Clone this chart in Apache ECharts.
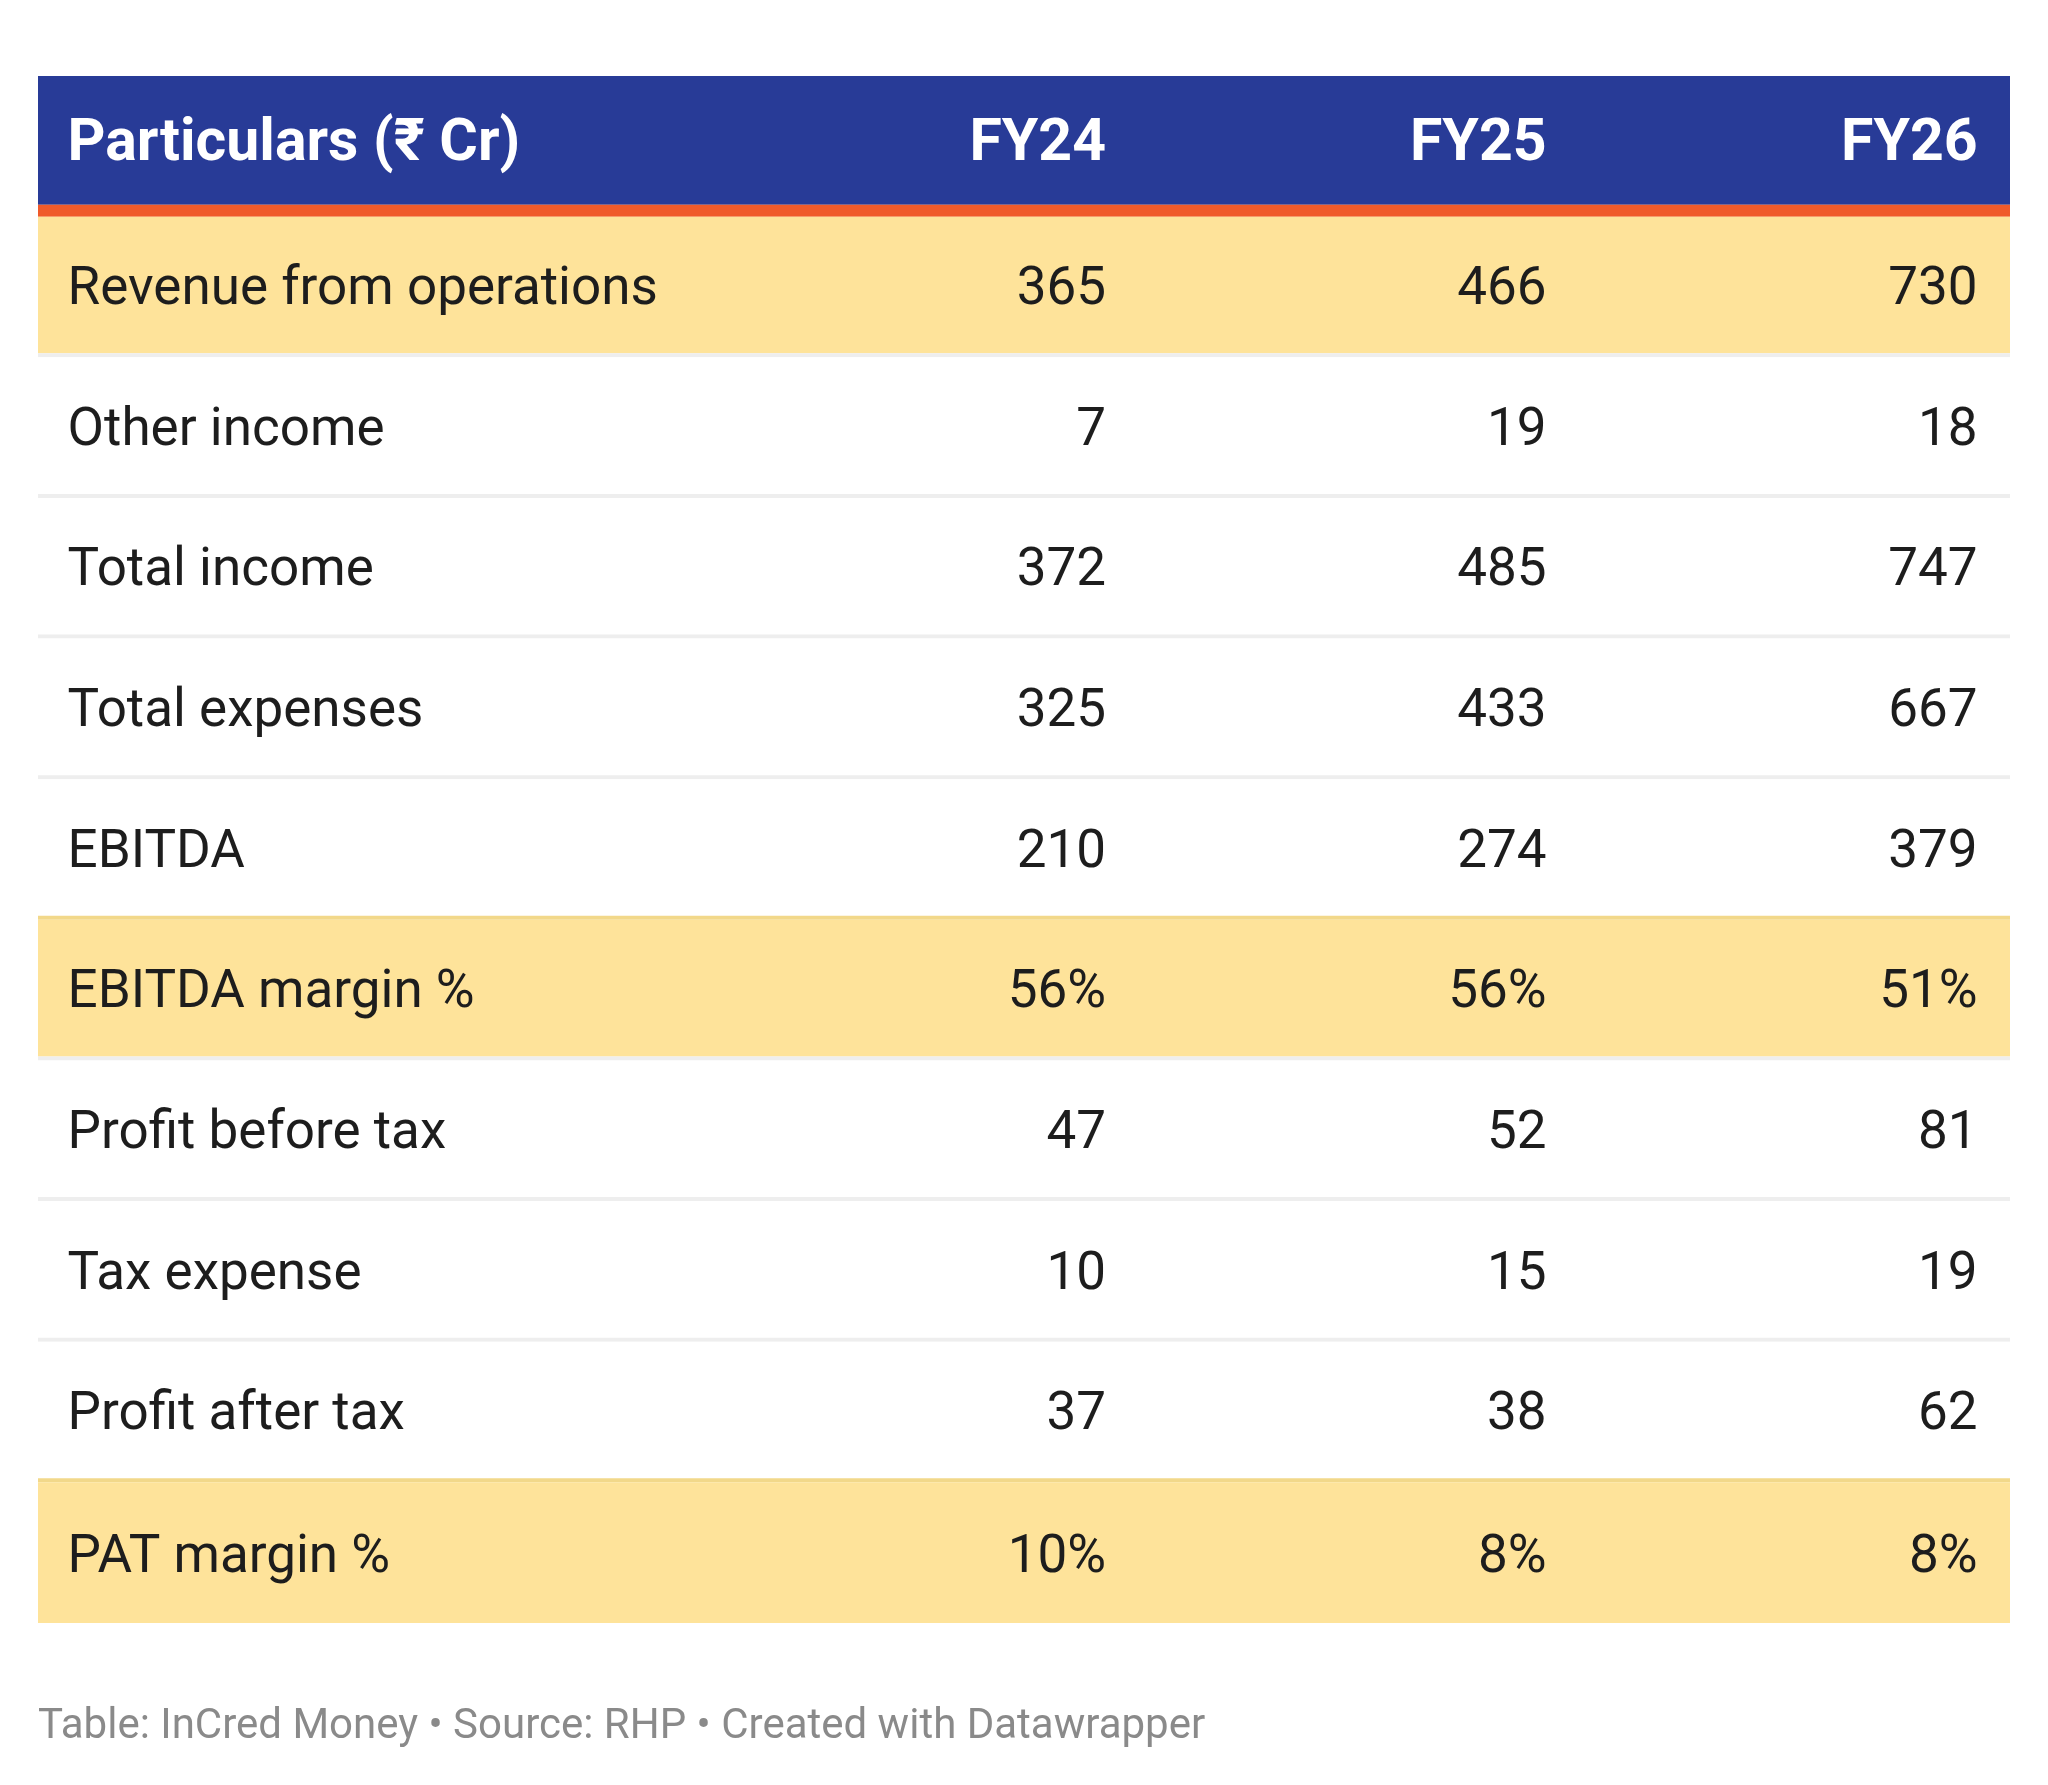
<!DOCTYPE html>
<html>
<head>
<meta charset="utf-8">
<script src="https://cdn.jsdelivr.net/npm/echarts@6/dist/echarts.min.js"></script>
<style>
  html, body { margin: 0; padding: 0; background: #fff; }
  #chart { width: 2048px; height: 1785px; }
</style>
</head>
<body>
<div id="chart"></div>
<script>
// table data (₹ Cr)
const columns = ['Particulars (₹ Cr)', 'FY24', 'FY25', 'FY26'];
const particulars = [
  'Revenue from operations', 'Other income', 'Total income', 'Total expenses',
  'EBITDA', 'EBITDA margin %', 'Profit before tax', 'Tax expense',
  'Profit after tax', 'PAT margin %'
];
const fy24 = [365, 7, 372, 325, 210, 56, 47, 10, 37, 10];
const fy25 = [466, 19, 485, 433, 274, 56, 52, 15, 38, 8];
const fy26 = [730, 18, 747, 667, 379, 51, 81, 19, 62, 8];
const percentRows = ['EBITDA margin %', 'PAT margin %'];
const highlightRows = ['Revenue from operations', 'EBITDA margin %', 'PAT margin %'];
const footer = 'Table: InCred Money • Source: RHP • Created with Datawrapper';

// x positions in % of table width (label left edge, numbers right edge)
const colX = [1.5, 54.16, 76.5, 98.36];

const rowNames = ['header'].concat(particulars);
const fmt = (v, name) => percentRows.indexOf(name) >= 0 ? v + '%' : String(v);

const chart = echarts.init(document.getElementById('chart'), null, { renderer: 'canvas' });

function renderRow(params, api) {
  const r = api.value(0);
  const band = api.size([0, 1])[1];
  const c = api.coord([0, r]);
  const top = c[1] - band / 2;
  const left = params.coordSys.x;
  const width = params.coordSys.width;
  const kids = [];
  if (r === 0) {
    const h = band - 12;
    kids.push({ type: 'rect', shape: { x: left, y: top, width: width, height: h }, style: { fill: '#283b97' } });
    kids.push({ type: 'rect', shape: { x: left, y: top + h, width: width, height: 12 }, style: { fill: '#f05a2a' } });
    columns.forEach(function (t, i) {
      const x = api.coord([colX[i], r])[0];
      kids.push({
        type: 'text',
        style: {
          text: t, x: x, y: top + h / 2 + 5,
          align: i === 0 ? 'left' : 'right', verticalAlign: 'middle',
          font: 'bold 59px Roboto, "DejaVu Sans", sans-serif', fill: '#ffffff'
        }
      });
    });
    return { type: 'group', children: kids };
  }
  const name = particulars[r - 1];
  const hl = highlightRows.indexOf(name) >= 0;
  const last = r === rowNames.length - 1;
  const nextHl = !last && highlightRows.indexOf(particulars[r]) >= 0;
  const bh = last ? 0 : 4;
  kids.push({ type: 'rect', shape: { x: left, y: top, width: width, height: band - bh }, style: { fill: hl ? '#fee39a' : '#ffffff' } });
  if (!last) {
    kids.push({ type: 'rect', shape: { x: left, y: top + band - bh, width: width, height: bh }, style: { fill: nextHl ? '#f2d88a' : '#eeeeee' } });
  }
  const vals = [name, fmt(fy24[r - 1], name), fmt(fy25[r - 1], name), fmt(fy26[r - 1], name)];
  vals.forEach(function (t, i) {
    const x = api.coord([colX[i], r])[0];
    kids.push({
      type: 'text',
      style: {
        text: t, x: x, y: top + (band - bh) / 2 + 6,
        align: i === 0 ? 'left' : 'right', verticalAlign: 'middle',
        font: '53px Roboto, "DejaVu Sans", sans-serif', fill: '#1d1d1d'
      }
    });
  });
  return { type: 'group', children: kids };
}

const option = {
  backgroundColor: '#ffffff',
  animation: false,
  grid: { left: 38, top: 76, width: 1972, height: 1547 },
  xAxis: { type: 'value', min: 0, max: 100, show: false },
  yAxis: { type: 'category', data: rowNames, inverse: true, show: false },
  graphic: [{
    type: 'text', left: 38, top: 1706,
    style: { text: footer, font: '42px Roboto, sans-serif', fill: '#8a8a8a' }
  }],
  series: [{
    type: 'custom',
    renderItem: renderRow,
    data: rowNames.map(function (n, i) { return [i]; }),
    encode: { y: 0 }
  }]
};

chart.setOption(option);
</script>
</body>
</html>
